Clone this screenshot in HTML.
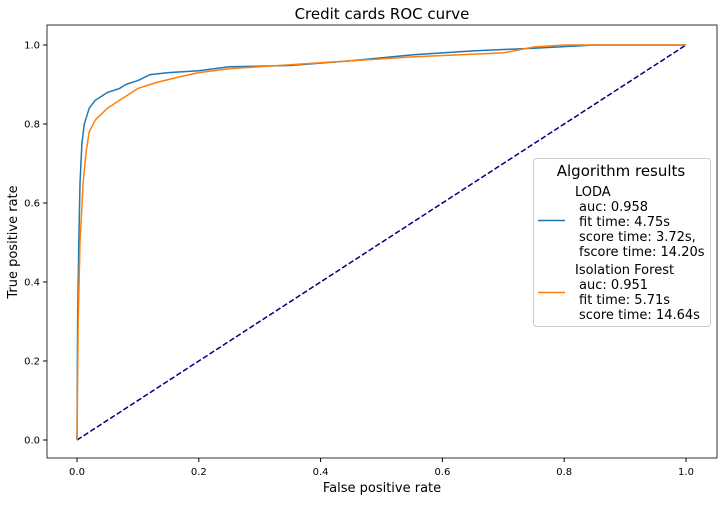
<!DOCTYPE html>
<html><head><meta charset="utf-8"><style>
body{margin:0;background:#fff;font-family:"Liberation Sans","DejaVu Sans",sans-serif;}
svg text{font-family:"DejaVu Sans","Liberation Sans",sans-serif;}
</style></head><body>
<svg id="c" width="723" height="501" viewBox="0 0 723 501"></svg>
<script>
const xTicks=[0,0.2,0.4,0.6,0.8,1.0];
const yTicks=[0,0.2,0.4,0.6,0.8,1.0];
const lodaFpr=[0,0.001,0.003,0.005,0.008,0.012,0.02,0.03,0.04,0.05,0.07,0.08,0.1,0.12,0.15,0.2,0.25,0.35,0.45,0.55,0.65,0.75,0.85,1];
const lodaTpr=[0,0.3,0.5,0.65,0.75,0.8,0.84,0.86,0.87,0.88,0.89,0.9,0.91,0.925,0.93,0.935,0.945,0.948,0.96,0.975,0.985,0.992,1,1];
const ifFpr=[0,0.002,0.005,0.01,0.015,0.02,0.03,0.05,0.07,0.1,0.13,0.17,0.2,0.25,0.35,0.45,0.55,0.7,0.75,0.8,1];
const ifTpr=[0,0.3,0.5,0.65,0.73,0.78,0.81,0.84,0.86,0.89,0.905,0.92,0.93,0.94,0.95,0.96,0.97,0.98,0.995,1,1];
const NS='http://www.w3.org/2000/svg';
const svg=document.getElementById('c');
const X=v=>77+v*609, Y=v=>440-v*395;
function mk(t,a,p){const e=document.createElementNS(NS,t);for(const k in a)e.setAttribute(k,a[k]);(p||svg).appendChild(e);return e;}
let e;
e=mk('rect',{x:47,y:25,width:670,height:433,fill:'#fff',stroke:'#000','stroke-width':0.8});


xTicks.forEach(t=>{mk('line',{x1:X(t),x2:X(t),y1:458,y2:462,stroke:'#000'});
e=mk('text',{x:X(t),y:475,'font-size':10,'text-anchor':'middle'});e.textContent=t.toFixed(1);

});
yTicks.forEach(t=>{mk('line',{x1:43,x2:47,y1:Y(t),y2:Y(t),stroke:'#000'});
e=mk('text',{x:40,y:Y(t)+3.5,'font-size':10,'text-anchor':'end'});e.textContent=t.toFixed(1);

});
e=mk('line',{x1:X(0),y1:Y(0),x2:X(1),y2:Y(1),stroke:'#000080','stroke-width':1.5,'stroke-dasharray':'5.5,2.4'});


function line(xs,ys,c,n){const d=xs.map((v,i)=>(i?'L':'M')+X(v).toFixed(1)+','+Y(ys[i]).toFixed(1)).join('');
const p=mk('path',{d:d,fill:'none',stroke:c,'stroke-width':1.5});

}
line(lodaFpr,lodaTpr,'#1f77b4','loda-roc-line');
line(ifFpr,ifTpr,'#ff7f0e','isolation-forest-roc-line');
e=mk('text',{x:382,y:19,'font-size':15,'text-anchor':'middle'});e.textContent='Credit cards ROC curve';


e=mk('text',{x:382,y:492,'font-size':13,'text-anchor':'middle'});e.textContent='False positive rate';


e=mk('text',{x:17,y:242,'font-size':13,'text-anchor':'middle',transform:'rotate(-90 17 242)'});e.textContent='True positive rate';


const g=mk('g',{});


mk('rect',{x:533.5,y:158.5,width:177,height:168,rx:3,fill:'#fff',stroke:'#ccc'},g);
e=mk('text',{x:621,y:176,'font-size':15,'text-anchor':'middle'},g);e.textContent='Algorithm results';
const lines1=['LODA',' auc: 0.958',' fit time: 4.75s',' score time: 3.72s,',' fscore time: 14.20s'];
const lines2=['Isolation Forest',' auc: 0.951',' fit time: 5.71s',' score time: 14.64s'];
mk('line',{x1:538,x2:565,y1:220.5,y2:220.5,stroke:'#1f77b4','stroke-width':1.5},g);
mk('line',{x1:538,x2:565,y1:292.5,y2:292.5,stroke:'#ff7f0e','stroke-width':1.5},g);
lines1.forEach((s,i)=>{const t=mk('text',{x:575,y:196+i*15,'font-size':13,'xml:space':'preserve'},g);t.textContent=i?' '+s.trim():s;if(i)t.setAttribute('x',575);});
lines2.forEach((s,i)=>{const t=mk('text',{x:575,y:274+i*15,'font-size':13},g);t.textContent=i?' '+s.trim():s;});
g.querySelectorAll('text').forEach(t=>{if(t.textContent.startsWith(' '))t.setAttribute('x',579);});
</script>
</body></html>
